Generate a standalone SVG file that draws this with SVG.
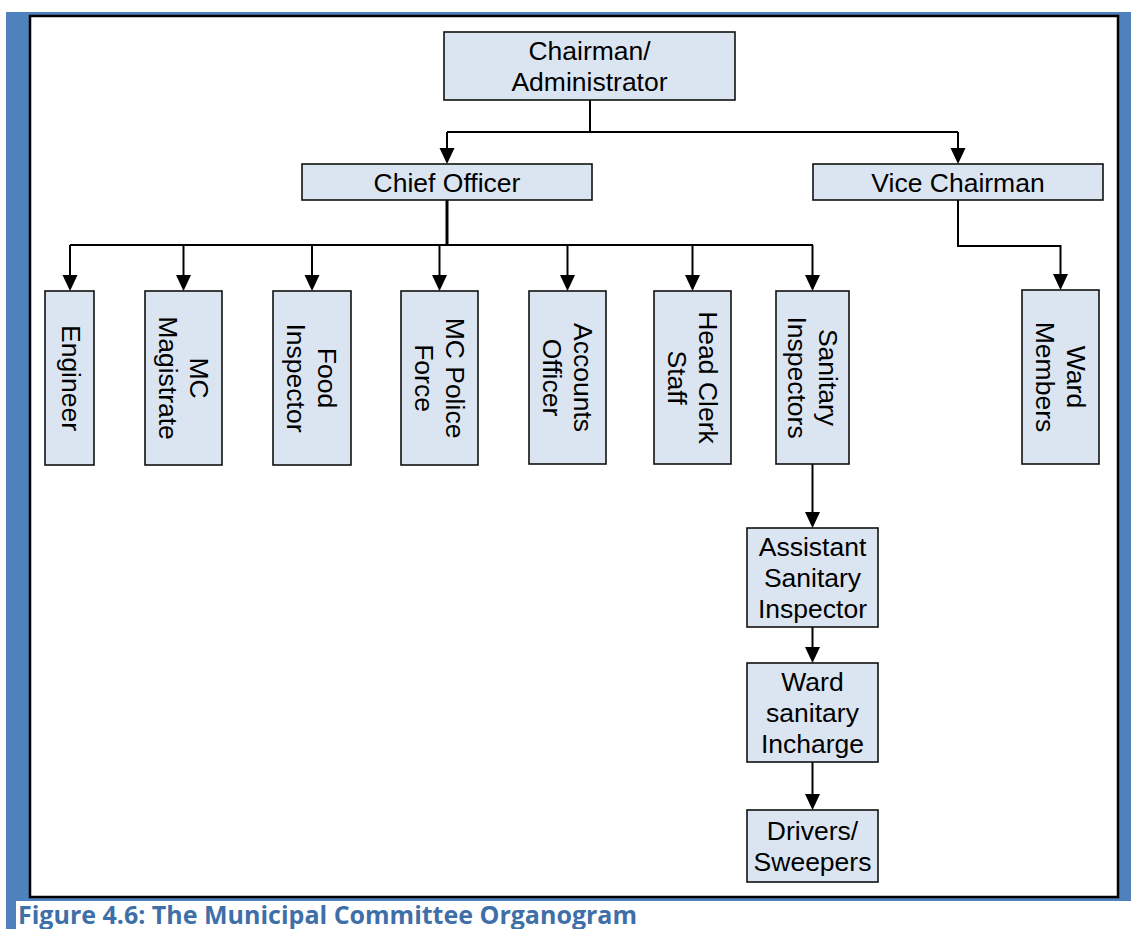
<svg xmlns="http://www.w3.org/2000/svg" width="1131" height="929" viewBox="0 0 1131 929">
<style>
.box{fill:#dbe5f1;stroke:#111;stroke-width:1.6}
.t{font-family:"Liberation Sans",Arial,sans-serif;font-size:26.5px;fill:#000;text-anchor:middle}
.c{fill:none;stroke:#000;stroke-width:2}
.ca{fill:none;stroke:#000;stroke-width:2;marker-end:url(#ah)}
.cap{font-family:"Open Sans","Liberation Sans",sans-serif;font-weight:bold;font-size:25px;fill:#3f6fa8}
</style>
<defs>
<marker id="ah" markerUnits="userSpaceOnUse" markerWidth="18" markerHeight="18" refX="6" refY="7.5" orient="auto">
<path d="M0,0 L16,7.5 L0,15 Z" fill="#000"/>
</marker>
</defs>
<rect x="0" y="0" width="1131" height="929" fill="#fff"/>
<rect x="6" y="12" width="1125" height="889" fill="#4f81bd"/>
<rect x="6" y="901" width="10" height="28" fill="#4f81bd"/>
<rect x="30" y="16" width="1088" height="881" fill="#fff" stroke="#000" stroke-width="2.5"/>
<text class="cap" x="18" y="924">Figure 4.6: The Municipal Committee Organogram</text>

<g id="connectors">
<path class="c" d="M590,100 V132 M447,132 H958"/>
<path class="ca" d="M447,132 V154"/>
<path class="ca" d="M958,132 V154"/>
<path d="M447,200 V245" fill="none" stroke="#000" stroke-width="3"/>
<path class="c" d="M70,245 H813"/>
<path class="ca" d="M70,245 V281"/>
<path class="ca" d="M183.5,245 V281"/>
<path class="ca" d="M312,245 V281"/>
<path class="ca" d="M439.5,245 V281"/>
<path class="ca" d="M567.5,245 V281"/>
<path class="ca" d="M692.5,245 V281"/>
<path class="ca" d="M812.5,245 V281"/>
<path class="ca" d="M958,200 V246 H1060.5 V280"/>
<path class="ca" d="M812.5,464 V518"/>
<path class="ca" d="M812.5,627 V653"/>
<path class="ca" d="M812.5,762 V800"/>
</g>

<g id="chairman">
<rect class="box" x="444" y="32" width="291" height="68"/>
<text class="t" x="589.5" y="60">Chairman/</text>
<text class="t" x="589.5" y="91">Administrator</text>
</g>
<g id="chief-officer">
<rect class="box" x="302" y="164" width="290" height="36"/>
<text class="t" x="447" y="191.5">Chief Officer</text>
</g>
<g id="vice-chairman">
<rect class="box" x="813" y="164" width="290" height="36"/>
<text class="t" x="958" y="191.5">Vice Chairman</text>
</g>

<g id="engineer">
<rect class="box" x="45" y="291" width="49" height="174"/>
<text class="t" transform="translate(69.5,378) rotate(90)" x="0" y="8">Engineer</text>
</g>
<g id="mc-magistrate">
<rect class="box" x="145" y="291" width="77" height="174"/>
<g transform="translate(183.5,378) rotate(90)">
<text class="t" x="0" y="-6">MC</text>
<text class="t" x="0" y="25">Magistrate</text>
</g>
</g>
<g id="food-inspector">
<rect class="box" x="273" y="291" width="78" height="174"/>
<g transform="translate(312,378) rotate(90)">
<text class="t" x="0" y="-6">Food</text>
<text class="t" x="0" y="25">Inspector</text>
</g>
</g>
<g id="mc-police-force">
<rect class="box" x="401" y="291" width="77" height="174"/>
<g transform="translate(439.5,378) rotate(90)">
<text class="t" x="0" y="-6">MC Police</text>
<text class="t" x="0" y="25">Force</text>
</g>
</g>
<g id="accounts-officer">
<rect class="box" x="529" y="291" width="77" height="173"/>
<g transform="translate(567.5,377.5) rotate(90)">
<text class="t" x="0" y="-6">Accounts</text>
<text class="t" x="0" y="25">Officer</text>
</g>
</g>
<g id="head-clerk-staff">
<rect class="box" x="654" y="291" width="77" height="173"/>
<g transform="translate(692.5,377.5) rotate(90)">
<text class="t" x="0" y="-6">Head Clerk</text>
<text class="t" x="0" y="25">Staff</text>
</g>
</g>
<g id="sanitary-inspectors">
<rect class="box" x="776" y="291" width="73" height="173"/>
<g transform="translate(812.5,377.5) rotate(90)">
<text class="t" x="0" y="-6">Sanitary</text>
<text class="t" x="0" y="25">Inspectors</text>
</g>
</g>
<g id="ward-members">
<rect class="box" x="1022" y="290" width="77" height="174"/>
<g transform="translate(1060.5,377) rotate(90)">
<text class="t" x="0" y="-6">Ward</text>
<text class="t" x="0" y="25">Members</text>
</g>
</g>

<g id="assistant-sanitary-inspector">
<rect class="box" x="747" y="528" width="131" height="99"/>
<text class="t" x="812.5" y="556">Assistant</text>
<text class="t" x="812.5" y="587">Sanitary</text>
<text class="t" x="812.5" y="618">Inspector</text>
</g>
<g id="ward-sanitary-incharge">
<rect class="box" x="747" y="663" width="131" height="99"/>
<text class="t" x="812.5" y="691">Ward</text>
<text class="t" x="812.5" y="722">sanitary</text>
<text class="t" x="812.5" y="753">Incharge</text>
</g>
<g id="drivers-sweepers">
<rect class="box" x="747" y="810" width="131" height="72"/>
<text class="t" x="812.5" y="840">Drivers/</text>
<text class="t" x="812.5" y="871">Sweepers</text>
</g>
</svg>
